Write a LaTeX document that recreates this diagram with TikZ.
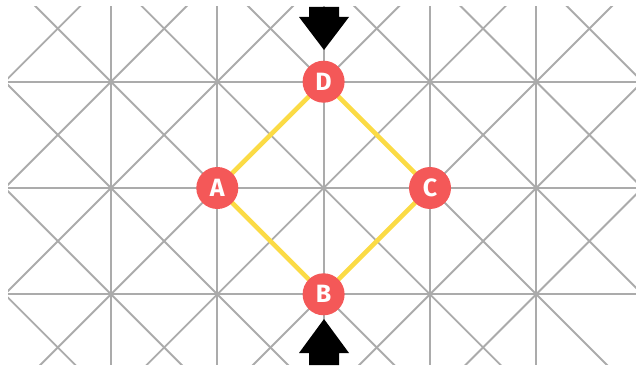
\documentclass[tikz,border=0pt]{standalone}
\usepackage{fontspec}
\newfontfamily\lblfont{Fira Sans}
\definecolor{gridgray}{HTML}{ABABAB}
\definecolor{edgeyellow}{HTML}{FBDB45}
\definecolor{nodered}{HTML}{F45858}
\pgfdeclarelayer{lattice}
\pgfdeclarelayer{edges}
\pgfsetlayers{lattice,edges,main}
\tikzset{
  gridline/.style={draw=gridgray, line width=1.9pt},
  edge/.style={draw=edgeyellow, line width=4.6pt},
  vertex/.style={circle, fill=nodered, minimum size=42pt, inner sep=0pt,
                 text=white, font=\lblfont\bfseries\fontsize{25}{25}\selectfont},
  pusharrow/.style={fill=black, draw=none}
}
\begin{document}
\begin{tikzpicture}[x=1pt, y=-1pt]
  \useasboundingbox (0,0) rectangle (636,371);
  % square lattice with both diagonals in every cell
  \begin{pgfonlayer}{lattice}
    \begin{scope}
      \clip (8,7) rectangle (636,364);
      \foreach \k in {0,...,6} {
        \draw[gridline] ({4.7+106.3*\k},-10) -- ({4.7+106.3*\k},380);
      }
      \foreach \k in {0,...,4} {
        \draw[gridline] (-10,{-24.6+106.3*\k}) -- (650,{-24.6+106.3*\k});
      }
      \foreach \k in {-6,...,8} {
        \pgfmathsetmacro{\c}{29.3+106.3*\k}
        \pgfmathsetmacro{\d}{-19.9+106.3*\k}
        \draw[gridline] ({\c-100},-100) -- ({\c+500},500);
        \draw[gridline] ({\d+100},-100) -- ({\d-500},500);
      }
    \end{scope}
  \end{pgfonlayer}
  % vertices
  \node[vertex] (D) at (323.6,81.7) {D};
  \node[vertex] (A) at (217.3,188) {A};
  \node[vertex] (C) at (430,188) {C};
  \node[vertex] (B) at (323.6,294.3) {B};
  % rhombus edges, kept under the vertices
  \begin{pgfonlayer}{edges}
    \draw[edge] (A.center) -- (D.center) -- (C.center) -- (B.center) -- cycle;
  \end{pgfonlayer}
  % pressing arrows above D and below B
  \coordinate (topTip) at (324,50);
  \coordinate (botTip) at (324,319);
  \fill[pusharrow] (topTip) -- ++(-25,-33) -- ++(10,0) -- ++(0,-10)
        -- ++(30,0) -- ++(0,10) -- ++(10,0) -- cycle;
  \fill[pusharrow] (botTip) -- ++(-25,34) -- ++(10,0) -- ++(0,12)
        -- ++(30,0) -- ++(0,-12) -- ++(10,0) -- cycle;
\end{tikzpicture}
\end{document}
